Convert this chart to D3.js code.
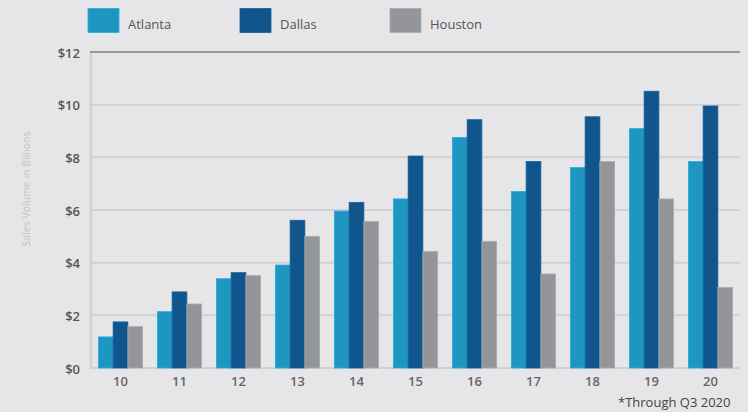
<!DOCTYPE html>
<html><head><meta charset="utf-8">
<script src="https://cdn.jsdelivr.net/npm/d3@7"></script>
<style>
html,body{margin:0;padding:0;background:#e6e6e8;}
svg{display:block;}
text{font-family:"Open Sans","DejaVu Sans",sans-serif;}
</style></head>
<body>
<svg id="c" width="748" height="412"></svg>
<script>
const years = ["10","11","12","13","14","15","16","17","18","19","20"];
const seriesNames = ["Atlanta","Dallas","Houston"];
const atlanta = [1.18,2.14,3.39,3.91,5.96,6.42,8.75,6.70,7.61,9.09,7.84];
const dallas  = [1.75,2.89,3.62,5.61,6.29,8.05,9.43,7.84,9.54,10.51,9.95];
const houston = [1.57,2.43,3.51,5.00,5.56,4.42,4.81,3.57,7.84,6.42,3.06];
const yTicks = [0,2,4,6,8,10,12];
const colors = ["#1f96c1","#10558b","#949598"];

(function(){
const values = [atlanta, dallas, houston];
const svg = d3.select("#c");
const mLeft = 91, mRight = 740, mTop = 52, mBottom = 368;

const x = d3.scaleBand().domain(years).range([mLeft, mRight]).paddingInner(0.25).paddingOuter(0.125);
const xs = d3.scaleBand().domain(seriesNames).range([0, x.bandwidth()]);
const y = d3.scaleLinear().domain([0, 12]).range([mBottom, mTop]);

// gridlines
svg.append("g").selectAll("line").data(yTicks.filter(d => d > 0 && d < 12)).join("line")
  .attr("x1", mLeft).attr("x2", mRight)
  .attr("y1", d => y(d)).attr("y2", d => y(d))
  .attr("stroke", "#d1d1d3").attr("stroke-width", 2);
// baseline
svg.append("line").attr("x1", mLeft).attr("x2", mRight).attr("y1", y(0)).attr("y2", y(0))
  .attr("stroke", "#d1d1d3").attr("stroke-width", 2);
// left axis line
svg.append("line").attr("x1", mLeft).attr("x2", mLeft).attr("y1", y(12)).attr("y2", y(0) + 1)
  .attr("stroke", "#d1d1d3").attr("stroke-width", 2.5);
// top line
svg.append("line").attr("x1", mLeft - 1).attr("x2", mRight).attr("y1", y(12)).attr("y2", y(12))
  .attr("stroke", "#9a9a9c").attr("stroke-width", 2);

// y tick labels
const yAxis = d3.axisLeft(y).tickValues(yTicks).tickFormat(d => "$" + d).tickSize(0).tickPadding(0);
const ga = svg.append("g").attr("transform", "translate(80,0)").call(yAxis);
ga.select(".domain").remove();
ga.selectAll("text").attr("font-size", 13).attr("font-weight", 600).attr("fill", "#555")
  .attr("dy", "0.4em").attr("font-family", "'Open Sans','DejaVu Sans',sans-serif");

// x tick labels
const xAxis = d3.axisBottom(x).tickSize(0).tickPadding(0);
const gx = svg.append("g").attr("transform", "translate(0,377)").call(xAxis);
gx.select(".domain").remove();
gx.selectAll("text").attr("font-size", 13).attr("font-weight", 600).attr("fill", "#666")
  .attr("dy", "0.71em").attr("font-family", "'Open Sans','DejaVu Sans',sans-serif");

// bars
seriesNames.forEach((s, si) => {
  svg.append("g").selectAll("rect").data(values[si]).join("rect")
    .attr("x", (d, i) => x(years[i]) + xs(s))
    .attr("y", d => y(d))
    .attr("width", xs.bandwidth())
    .attr("height", d => y(0) - y(d))
    .attr("fill", colors[si])
    .attr("stroke", d3.color(colors[si]).brighter(0.4))
    .attr("stroke-width", 0.8);
});

// y axis title
svg.append("text").attr("transform", "translate(30,189) rotate(-90)")
  .attr("text-anchor", "middle").attr("font-size", 10.5).attr("fill", "#c4c4c6")
  .text("Sales Volume in Billions");

// legend
const legX = [88, 240, 390];
seriesNames.forEach((s, i) => {
  svg.append("rect").attr("x", legX[i]).attr("y", 8.5).attr("width", 31).attr("height", 24)
    .attr("fill", colors[i]).attr("stroke", d3.color(colors[i]).brighter(0.4)).attr("stroke-width", 0.8);
  svg.append("text").attr("x", legX[i] + 40).attr("y", 29).attr("font-size", 13)
    .attr("fill", "#555").text(s);
});

// footnote
svg.append("text").attr("x", 618).attr("y", 407).attr("font-size", 13).attr("fill", "#444")
  .text("*Through Q3 2020");
})();
</script>
</body></html>
